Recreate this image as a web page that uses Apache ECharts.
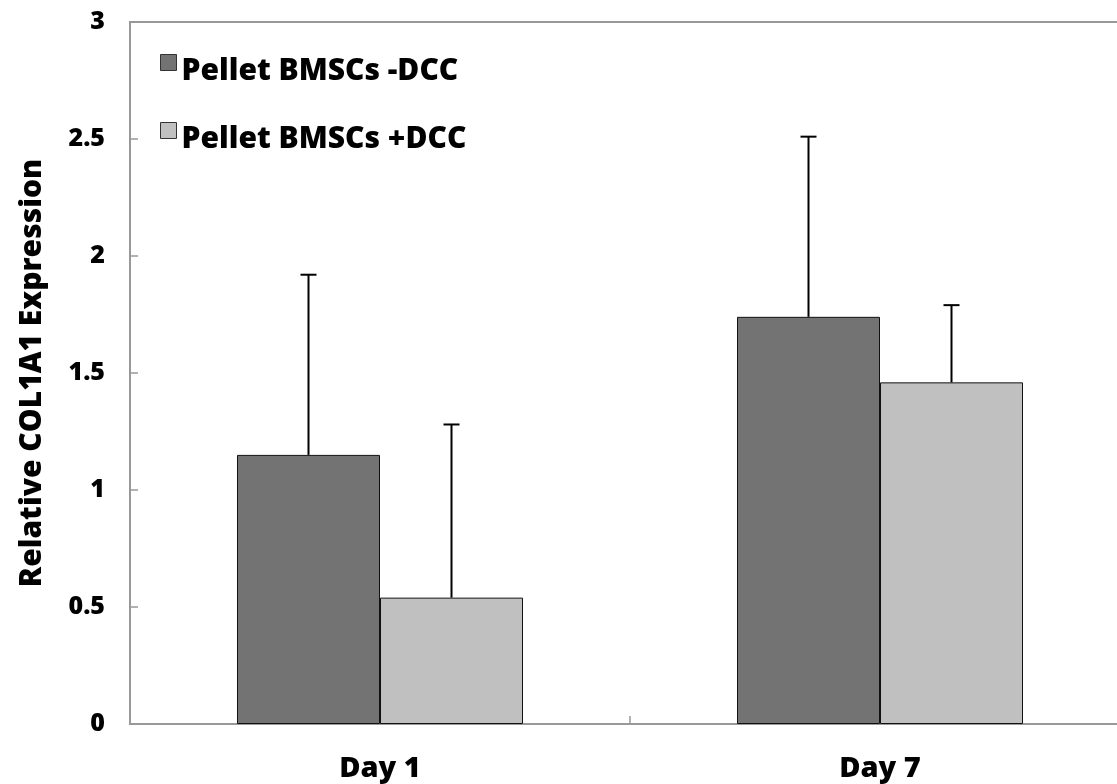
<!DOCTYPE html>
<html><head><meta charset="utf-8">
<script src="https://cdn.jsdelivr.net/npm/echarts@6/dist/echarts.min.js"></script>
<style>html,body{margin:0;padding:0;background:#fff;overflow:hidden}#c{width:1130px;height:784px}</style>
</head><body><div id="c"></div>
<script>
const categories = ['Day 1', 'Day 7'];
const seriesNames = ['Pellet BMSCs -DCC', 'Pellet BMSCs +DCC'];
const minusDCC = [1.15, 1.74];
const plusDCC = [0.54, 1.46];
const minusDCCErrTop = [1.92, 2.51];
const plusDCCErrTop = [1.28, 1.79];
const yTicks = [0, 0.5, 1, 1.5, 2, 2.5, 3];

const FONT = '"Open Sans"';
const WEIGHT = 800;
const BAR_W = 143;

function errSeries(name, values, tops, offsetSign) {
  return {
    type: 'custom',
    name: name + ' err',
    z: 5,
    data: values.map((v, i) => [i, v, tops[i]]),
    renderItem: function (params, api) {
      const x = api.value(0);
      const p0 = api.coord([x, api.value(1)]);
      const p1 = api.coord([x, api.value(2)]);
      const cx = p0[0] + offsetSign * BAR_W / 2;
      const cap = 8;
      return {
        type: 'group',
        children: [
          { type: 'line', shape: { x1: cx, y1: p0[1], x2: cx, y2: p1[1] }, style: { stroke: '#000', lineWidth: 2 } },
          { type: 'line', shape: { x1: cx - cap, y1: p1[1], x2: cx + cap, y2: p1[1] }, style: { stroke: '#000', lineWidth: 2 } }
        ]
      };
    }
  };
}

const chart = echarts.init(document.getElementById('c'));
chart.setOption({
  animation: false,
  backgroundColor: '#fff',
  grid: { left: 130, right: 0, top: 22, bottom: 60, show: true, borderColor: '#999', borderWidth: 2, containLabel: false },
  legend: {
    left: 160, top: 54, padding: 0, orient: 'vertical', itemGap: 34,
    itemWidth: 16, itemHeight: 34,
    icon: 'path://M0,0H16V16H0Z M0,33L0.001,33',
    data: seriesNames,
    itemStyle: { borderColor: '#333', borderWidth: 1 },
    textStyle: { fontFamily: FONT, fontWeight: WEIGHT, fontSize: 30, color: '#000', padding: [0, 0, 0, 0] }
  },
  xAxis: {
    type: 'category', data: categories,
    axisLine: { lineStyle: { color: '#999', width: 2 } },
    axisTick: { show: true, inside: true, length: 8, lineStyle: { color: '#999', width: 1.5 } },
    axisLabel: { fontFamily: FONT, fontWeight: WEIGHT, fontSize: 29, color: '#000', margin: 30 }
  },
  yAxis: {
    type: 'value', min: 0, max: 3, interval: 0.5,
    name: 'Relative COL1A1 Expression', nameLocation: 'middle', nameGap: 83,
    nameTextStyle: { fontFamily: FONT, fontWeight: WEIGHT, fontSize: 30, color: '#000' },
    splitLine: { show: false },
    axisLine: { show: true, lineStyle: { color: '#999', width: 2 } },
    axisTick: { show: true, inside: true, length: 8, lineStyle: { color: '#999', width: 1.5 } },
    axisLabel: { fontFamily: FONT, fontWeight: WEIGHT, fontSize: 25, color: '#000', margin: 25,
      formatter: v => yTicks.includes(v) ? String(v) : '' }
  },
  series: [
    { type: 'bar', name: seriesNames[0], data: minusDCC, barWidth: BAR_W, barGap: '0%',
      itemStyle: { color: '#737373', borderColor: '#111', borderWidth: 1 } },
    { type: 'bar', name: seriesNames[1], data: plusDCC, barWidth: BAR_W, barGap: '0%',
      itemStyle: { color: '#c0c0c0', borderColor: '#111', borderWidth: 1 } },
    errSeries(seriesNames[0], minusDCC, minusDCCErrTop, -1),
    errSeries(seriesNames[1], plusDCC, plusDCCErrTop, 1)
  ]
});
</script></body></html>
